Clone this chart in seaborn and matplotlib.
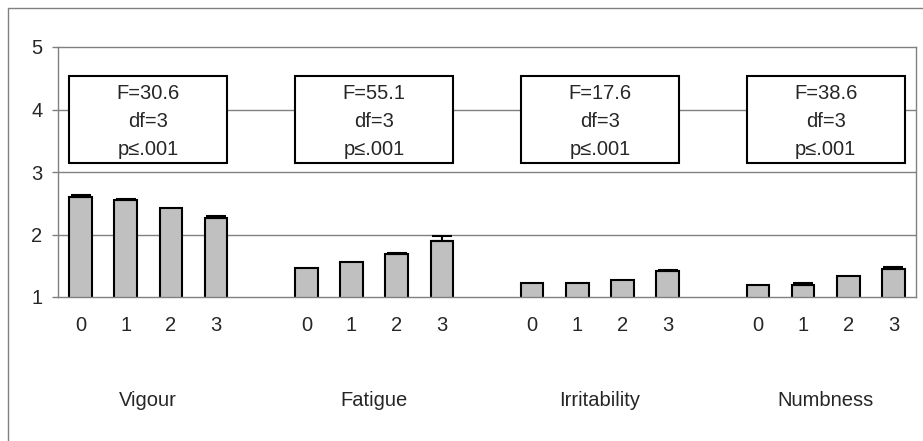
import matplotlib
matplotlib.use("Agg")
import matplotlib.pyplot as plt
import matplotlib.patches as mpatches
import numpy as np
import pandas as pd
import seaborn as sns

# Mean scores per level (0-3) for each mood scale, with upper error bars
groups = ["Vigour", "Fatigue", "Irritability", "Numbness"]
levels = ["0", "1", "2", "3"]
vigour = [2.60, 2.55, 2.43, 2.26]
vigour_err = [0.04, 0.015, 0.0, 0.04]
fatigue = [1.47, 1.56, 1.69, 1.90]
fatigue_err = [0.0, 0.0, 0.015, 0.08]
irritability = [1.23, 1.23, 1.27, 1.42]
irritability_err = [0.0, 0.0, 0.0, 0.02]
numbness = [1.20, 1.20, 1.33, 1.45]
numbness_err = [0.0, 0.025, 0.0, 0.035]
f_values = ["30.6", "55.1", "17.6", "38.6"]
df_values = ["3", "3", "3", "3"]
p_values = [".001", ".001", ".001", ".001"]

means = [vigour, fatigue, irritability, numbness]
errs = [vigour_err, fatigue_err, irritability_err, numbness_err]

rows = []
order = []
for gi, g in enumerate(groups):
    if gi > 0:
        order.append(f"gap{gi}")
    for li, lv in enumerate(levels):
        key = f"{g}-{lv}"
        order.append(key)
        rows.append({"slot": key, "group": g, "level": lv,
                     "mean": means[gi][li], "err": errs[gi][li]})
data = pd.DataFrame(rows)

sns.set_style("white")
plt.rcParams["font.family"] = ["Liberation Sans", "DejaVu Sans"]
fs = 14.5

fig = plt.figure(figsize=(9.23, 4.41), dpi=100)
W, H = 923, 441
ax = fig.add_axes([58 / W, 1 - 297 / H, (916 - 58) / W, (297 - 47) / H])

grey = "#808080"
ax.set_axisbelow(True)
for y in [2, 3, 4]:
    ax.axhline(y, color=grey, lw=1, zorder=0)

sns.barplot(data=data, x="slot", y="mean", order=order, color="#C0C0C0",
            saturation=1, edgecolor="black", linewidth=1.5, width=0.5,
            errorbar=None, ax=ax, zorder=2)

pos = np.array([order.index(s) for s in data["slot"]])
has_err = data["err"].values > 0
ax.errorbar(pos[has_err], data["mean"].values[has_err],
            yerr=[np.zeros(has_err.sum()), data["err"].values[has_err]],
            fmt="none", ecolor="black", elinewidth=1.5, capsize=7,
            capthick=1.5, zorder=3)

ax.set_ylim(1, 5)
ax.set_xlim(-0.5, len(order) - 0.5)
ax.set_yticks([1, 2, 3, 4, 5])
ax.set_xticks(range(len(order)))
ax.set_xticklabels([s.split("-")[1] if "-" in s else "" for s in order])
ax.tick_params(axis="x", length=0, pad=14, labelsize=fs)
ax.tick_params(axis="y", length=4.3, width=1, color=grey, pad=7, labelsize=fs,
               left=True)
ax.set_xlabel("")
ax.set_ylabel("")
for sp in ax.spines.values():
    sp.set_color(grey)
    sp.set_linewidth(1)

trans = ax.get_xaxis_transform()
for gi, g in enumerate(groups):
    start = order.index(f"{g}-0")
    rect = mpatches.Rectangle((start - 0.25, 3.14), 3.5, 1.39,
                              facecolor="white", edgecolor="black",
                              linewidth=1.5, zorder=4)
    ax.add_patch(rect)
    ax.text(start + 1.5, 3.81,
            f"F={f_values[gi]}\ndf={df_values[gi]}\np≤{p_values[gi]}",
            ha="center", va="center", fontsize=fs, linespacing=1.6,
            zorder=5)
    ax.text(start + 1.5, -103 / 250, g, transform=trans, ha="center",
            va="center", fontsize=fs)

# outer frame (top and left edges visible)
fig.add_artist(mpatches.Rectangle((8 / W, -0.2), 1.5, 1.2 - 8 / H,
                                  transform=fig.transFigure, fill=False,
                                  edgecolor=grey, linewidth=1))

fig.savefig("out.png", dpi=100)
